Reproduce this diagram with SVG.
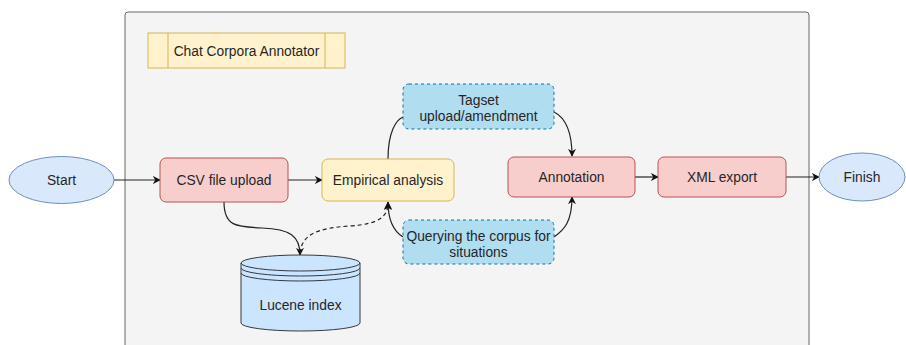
<svg xmlns="http://www.w3.org/2000/svg" width="906" height="345" viewBox="0 0 906 345">
<defs>
<style>
text{font-family:"Liberation Sans",Arial,sans-serif;font-size:13.8px;fill:#262626;text-anchor:middle;dominant-baseline:central}
.red{fill:#f8cecc;stroke:#b85450;stroke-width:1}
.yel{fill:#fff2cc;stroke:#d6b656;stroke-width:1}
.blu{fill:#b1ddf0;stroke:#10739e;stroke-width:1;stroke-dasharray:3 3}
.ell{fill:#dae8fc;stroke:#6c8ebf;stroke-width:1}
.edge{fill:none;stroke:#222;stroke-width:1.2}
.dash{stroke-dasharray:4 3}
</style>
<marker id="arr" viewBox="0 0 10 10" refX="9" refY="5" markerWidth="8" markerHeight="8" markerUnits="userSpaceOnUse" orient="auto">
<path d="M0,0 L10,5 L0,10 L3,5 z" fill="#111"/>
</marker>
</defs>
<rect width="906" height="345" fill="#ffffff"/>
<g id="container">
<rect x="125" y="12" width="684" height="360" rx="3" fill="#f4f4f4" stroke="#666" stroke-width="1"/>
</g>
<g id="title">
<rect x="148" y="33" width="197" height="35" class="yel"/>
<line x1="168" y1="33" x2="168" y2="68" stroke="#d6b656"/>
<line x1="325" y1="33" x2="325" y2="68" stroke="#d6b656"/>
<text x="246.500" y="51">Chat Corpora Annotator</text>
</g>
<g id="connectors">
<path class="edge" d="M114,180 L160,180" marker-end="url(#arr)"/>
<path class="edge" d="M288,180 L322,180" marker-end="url(#arr)"/>
<path class="edge" d="M635,177 L658,177" marker-end="url(#arr)"/>
<path class="edge" d="M786,177 L819,177" marker-end="url(#arr)"/>
<path class="edge" d="M388,159 C388,132 396,120 403,117"/>
<path class="edge" d="M554,112 C566,118 572,132 572,156" marker-end="url(#arr)"/>
<path class="edge" d="M403,237 C395,232 388,222 388,202" marker-end="url(#arr)"/>
<path class="edge" d="M554,237 C564,230 572,222 572,197" marker-end="url(#arr)"/>
<path class="edge" d="M224,202 C224,226 236,227 262,228 C290,229 300,236 300,255" marker-end="url(#arr)"/>
<path class="edge dash" d="M300,253 C302,234 318,228 350,226 C380,224 388,216 388,203" marker-end="url(#arr)"/>
</g>
<g id="start">
<ellipse cx="61.500" cy="180" rx="52.500" ry="23.500" class="ell"/>
<text x="61.500" y="180">Start</text>
</g>
<g id="csv">
<rect x="160" y="158" width="128" height="44" rx="6" class="red"/>
<text x="224" y="180">CSV file upload</text>
</g>
<g id="empirical">
<rect x="322" y="159" width="132" height="42" rx="6" class="yel"/>
<text x="388" y="180">Empirical analysis</text>
</g>
<g id="tagset">
<rect x="403" y="84" width="151" height="45" rx="6" class="blu"/>
<text x="478.500" y="100">Tagset</text>
<text x="478.500" y="116">upload/amendment</text>
</g>
<g id="querying">
<rect x="403" y="220" width="151" height="44" rx="6" class="blu"/>
<text x="478.500" y="236">Querying the corpus for</text>
<text x="478.500" y="252">situations</text>
</g>
<g id="annotation">
<rect x="508" y="157" width="127" height="40" rx="6" class="red"/>
<text x="571.500" y="177">Annotation</text>
</g>
<g id="xml">
<rect x="658" y="157" width="128" height="40" rx="6" class="red"/>
<text x="722" y="177">XML export</text>
</g>
<g id="finish">
<ellipse cx="862" cy="177" rx="43" ry="24" class="ell"/>
<text x="862" y="177">Finish</text>
</g>
<g id="lucene">
<path d="M241,263 A59.500,8 0 0 1 360,263 L360,323 A59.500,8 0 0 1 241,323 Z" fill="#cce5ff" stroke="#36393d" stroke-width="1"/>
<path d="M241,263 A59.500,8 0 0 0 360,263" fill="none" stroke="#36393d"/>
<path d="M241,268 A59.500,8 0 0 0 360,268" fill="none" stroke="#36393d"/>
<path d="M241,273 A59.500,8 0 0 0 360,273" fill="none" stroke="#36393d"/>
<text x="300.500" y="305">Lucene index</text>
</g>
</svg>
